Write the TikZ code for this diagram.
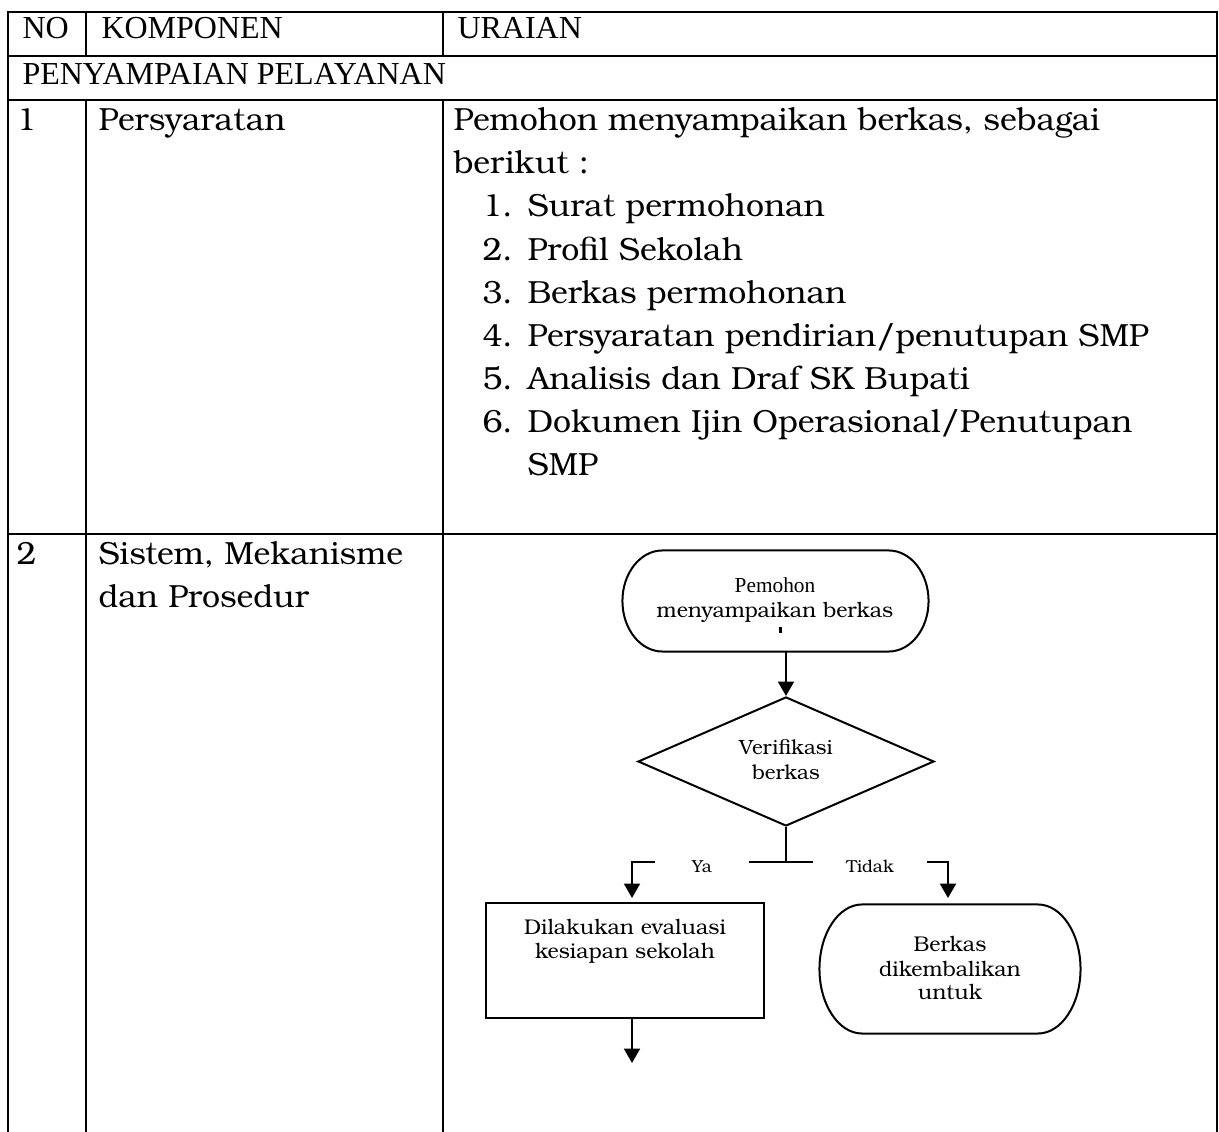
\documentclass[tikz,border=0pt]{standalone}
\usepackage{fontspec}
\setmainfont{texgyrebonum}[Extension=.otf, UprightFont=*-regular]
\newfontfamily\timesfont{Liberation Serif}
\usetikzlibrary{shapes.geometric, arrows.meta, calc}

% flowchart terminator: straight top/bottom with elliptical ends
\newcommand\terminatorpath[2]{%
  \draw[flow] let \p1=(#1.north), \p2=(#1.south), \n1={(\y1-\y2)/2} in
    ([xshift=#2]#1.north west) -- ([xshift=-#2]#1.north east)
    arc[start angle=90, end angle=-90, x radius=#2, y radius=\n1]
    -- ([xshift=#2]#1.south west)
    arc[start angle=270, end angle=90, x radius=#2, y radius=\n1] -- cycle;}

\begin{document}
\begin{tikzpicture}[x=0.375pt, y=-0.375pt,
  grid/.style={line width=1pt, line cap=rect},
  flow/.style={line width=0.75pt},
  arr/.style={flow, -{Triangle[width=6pt, length=5.4pt]}},
  head/.style={font=\timesfont\fontsize{12}{14}\selectfont, inner sep=0pt, anchor=base west},
  body/.style={font=\fontsize{12}{16}\selectfont, inner sep=0pt, anchor=base west},
  ftext/.style={font=\fontsize{8}{10}\selectfont, inner sep=0pt, anchor=base},
  lbl/.style={font=\fontsize{6.5}{8}\selectfont, anchor=base, fill=white,
              inner xsep=0pt, inner ysep=3pt},
  boxshape/.style={rectangle, inner sep=0pt},
]
\useasboundingbox (0,0) rectangle (1219,1132);

% ---- table rules
\draw[grid] (8,1140) -- (8,12) -- (1217,12) -- (1217,1140);
\draw[grid] (8,56) -- (1217,56);
\draw[grid] (8,100) -- (1217,100);
\draw[grid] (8,534) -- (1217,534);
\draw[grid] (86,12) -- (86,56);
\draw[grid] (443,12) -- (443,56);
\draw[grid] (86,100) -- (86,1140);
\draw[grid] (443,100) -- (443,1140);

% ---- header rows
\node[head] (hno)  at (22,39)  {NO};
\node[head] (hkom) at (101,39) {KOMPONEN};
\node[head] (hura) at (457,39) {URAIAN};
\node[head] (sect) at (22,85)  {PENYAMPAIAN PELAYANAN};

% ---- row 1
\node[body] (n1)   at (16,131)  {1};
\node[body] (k1)   at (98,131)  {Persyaratan};
\node[body] (u1a)  at (453,131) {Pemohon menyampaikan berkas, sebagai};
\node[body] (u1b)  at (453,174) {berikut :};
\foreach \t [count=\i] in {Surat permohonan, Profil Sekolah, Berkas permohonan,
    Persyaratan pendirian/penutupan SMP, Analisis dan Draf SK Bupati,
    Dokumen Ijin Operasional/Penutupan} {
  \node[body] (num\i) at (482,{217+43.2*(\i-1)}) {\i.};
  \node[body] (item\i) at (527,{217+43.2*(\i-1)}) {\t};
}
\node[body] (item6b) at (527,476) {SMP};

% ---- row 2
\node[body] (n2)  at (16,565) {2};
\node[body] (k2a) at (98,565) {Sistem, Mekanisme};
\node[body] (k2b) at (98,608) {dan Prosedur};

% ---- flowchart shapes
\node[boxshape, minimum width=114.4pt, minimum height=37.5pt] (start) at (775.5,601) {};
\terminatorpath{start}{15pt}
\node[font=\timesfont\fontsize{8}{10}\selectfont, inner sep=0pt, anchor=base] (st1) at (775,593) {Pemohon};
\node[ftext] (st2) at (775,618) {menyampaikan berkas};
% clipped remnant of a third text line
\fill (779,627) rectangle (781.5,633);

\node[diamond, draw, flow, inner sep=0pt, minimum width=111pt, minimum height=48.4pt] (dec) at (786,761.5) {};
\node[ftext, font=\fontsize{7.7}{9}\selectfont] (dc1) at (786,755) {Verifikasi};
\node[ftext, font=\fontsize{7.7}{9}\selectfont] (dc2) at (786,780) {berkas};

\node[boxshape, draw, flow, minimum width=104.3pt, minimum height=43.1pt] (eval) at (625,960.5) {};
\node[ftext] (ev1) at (625,935) {Dilakukan evaluasi};
\node[ftext] (ev2) at (625,959) {kesiapan sekolah};

\node[boxshape, minimum width=97.5pt, minimum height=48pt] (ret) at (950,969) {};
\terminatorpath{ret}{16pt}
\node[ftext] (rt1) at (950,952)  {Berkas};
\node[ftext] (rt2) at (950,977)  {dikembalikan};
\node[ftext] (rt3) at (950,1000) {untuk};

% ---- connectors
\coordinate (junc)   at (786,862);
\coordinate (yaend)  at (632,898);
\coordinate (tdkend) at (948,898);
\coordinate (evout)  at (632,1063);

\draw[arr] (start.south -| dec.north) -- (dec.north);
\draw[flow] (dec.south) -- (junc);
\draw[arr] (junc) -| (yaend);
\draw[arr] (junc) -| (tdkend);
\draw[arr] (eval.south -| yaend) -- (evout);

\node[lbl, minimum width=35.6pt] (ya)  at (702,873) {Ya};
\node[lbl, minimum width=43.1pt] (tdk) at (870,873) {Tidak};
\end{tikzpicture}
\end{document}
